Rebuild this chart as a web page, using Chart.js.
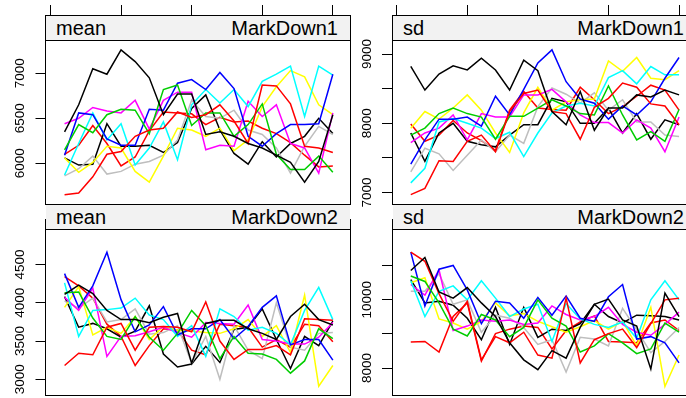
<!DOCTYPE html>
<html lang="en">
<head>
<meta charset="UTF-8">
<title>MarkDown mean / sd</title>
<style>
  html, body { margin: 0; padding: 0; overflow: hidden; background: #fff; }
  body { width: 686px; height: 398px; position: relative; font-family: "Liberation Sans", Arial, sans-serif; }
  canvas { position: absolute; }
  .strip {
    position: absolute; height: 25px; box-sizing: border-box;
    background: #f2f2f2; border-bottom: 1px solid #000;
    font-size: 20px; line-height: 24px; color: #000;
    display: flex; justify-content: space-between;
    padding: 0 12px 0 10px; white-space: nowrap;
  }
</style>
</head>
<body>
<canvas id="c1" width="352" height="232" style="left:0;top:0"></canvas>
<canvas id="c2" width="350" height="232" style="left:350px;top:0"></canvas>
<canvas id="c3" width="352" height="202" style="left:0;top:196px"></canvas>
<canvas id="c4" width="350" height="202" style="left:350px;top:196px"></canvas>

<div class="strip" style="left:46px;top:16px;width:304px"><span>mean</span><span>MarkDown1</span></div>
<div class="strip" style="left:393px;top:16px;width:303px"><span>sd</span><span>MarkDown1</span></div>
<div class="strip" style="left:46px;top:205px;width:304px"><span>mean</span><span>MarkDown2</span></div>
<div class="strip" style="left:393px;top:205px;width:303px"><span>sd</span><span>MarkDown2</span></div>

<script src="https://cdn.jsdelivr.net/npm/chart.js@4"></script>
<script>
// x positions (20 periods) and top-axis ticks
const weeks = [1, 2, 3, 4, 5, 6, 7, 8, 9, 10, 11, 12, 13, 14, 15, 16, 17, 18, 19, 20];
const xTicks = [0, 5, 10, 15, 20];

// line colours, same order as the rows of each panel
const seriesColors = ['#000000', '#FF0000', '#00CD00', '#0000FF', '#00FFFF',
                      '#FF00FF', '#FFFF00', '#BEBEBE', '#000000', '#FF0000'];

// mean, MarkDown1
const meanMarkDown1 = [
  [6350, 6650, 7050, 6990, 7260, 7130, 6950, 6540, 6770, 6770, 6320, 6350, 6300, 6220, 6170, 6090, 6010, 5790, 6020, 6540], // black
  [5650, 5670, 5850, 6100, 6130, 6300, 6370, 6390, 6570, 6510, 6540, 6650, 6470, 6220, 6870, 6860, 6660, 6190, 6170, 6120], // red
  [6150, 6430, 6340, 6540, 6600, 6590, 6330, 6820, 6870, 6420, 6560, 6560, 6300, 6430, 6660, 6100, 5930, 5930, 6080, 5900], // green
  [6090, 6560, 6540, 6270, 6200, 6200, 6600, 6590, 6890, 6930, 6820, 7010, 6830, 6300, 6190, 6330, 6430, 6430, 6440, 6990], // blue
  [5870, 6220, 6560, 6260, 6440, 5980, 6170, 6460, 6040, 6650, 6820, 6670, 6820, 6630, 6910, 6990, 7080, 6520, 7080, 6980], // cyan
  [6440, 6500, 6620, 6580, 6560, 6700, 6380, 6700, 6790, 6790, 6150, 6200, 6190, 6690, 6520, 6650, 6220, 6170, 5890, 6560], // magenta
  [6060, 5900, 6010, 6190, 6170, 5910, 5790, 6080, 6390, 6370, 6300, 6390, 6140, 6260, 6630, 6850, 7030, 6960, 6650, 6540], // yellow
  [5860, 5940, 6080, 5880, 5910, 5990, 6020, 6090, 6260, 6700, 6520, 6500, 6590, 6370, 6320, 6170, 5890, 6190, 6410, 6320], // gray
  [6060, 5980, 5990, 6440, 6190, 6190, 6200, 6120, 6230, 6610, 6760, 6370, 6110, 5990, 6240, 6070, 6220, 6300, 6500, 6330], // black
  [6100, 6200, 6420, 6220, 5970, 6070, 6360, 6570, 6560, 6550, 6430, 6510, 6460, 6470, 6390, 6330, 6230, 6090, 5960, 5970]  // red
];

// sd, MarkDown1
const sdMarkDown1 = [
  [8820, 8480, 8710, 8830, 8770, 8940, 8770, 8480, 8910, 8760, 8170, 7980, 8460, 7900, 8220, 8220, 8410, 8380, 8480, 8410],
  [6970, 7060, 7460, 7450, 7740, 7830, 7590, 8170, 8430, 8480, 8170, 8140, 7770, 8230, 8360, 8580, 8520, 8280, 8250, 7980],
  [7830, 7930, 8140, 8220, 8140, 8090, 7770, 8100, 8100, 8220, 8340, 8250, 8140, 8120, 8540, 8120, 7760, 7880, 7740, 8200],
  [7410, 7760, 8060, 8060, 8090, 7960, 8390, 8120, 8490, 8870, 9060, 8600, 8350, 8290, 8060, 8250, 8120, 8310, 8650, 8950],
  [7140, 7350, 8020, 8070, 8000, 7930, 7780, 7870, 7520, 7860, 8150, 8250, 8290, 8250, 8660, 8760, 8570, 8820, 8700, 8700],
  [7720, 7860, 7930, 8120, 7760, 8140, 8090, 8090, 8410, 8410, 8490, 8310, 8120, 8010, 8010, 7860, 8050, 7930, 7590, 8090],
  [7930, 8170, 8060, 8220, 8410, 8190, 7860, 7580, 8150, 8520, 8190, 8310, 8340, 8350, 8900, 8750, 8950, 8650, 8630, 8760],
  [7300, 7640, 7560, 7320, 7540, 7760, 7590, 7830, 7710, 8240, 8510, 8420, 8290, 8440, 8190, 8340, 8020, 8020, 7830, 7810],
  [7860, 7450, 7860, 8000, 7740, 7690, 7660, 7830, 7980, 7980, 8360, 8310, 8000, 8000, 8220, 7860, 8140, 7770, 8050, 7980],
  [7990, 7740, 7830, 8040, 7860, 7750, 7610, 8190, 8460, 8220, 8200, 8190, 8520, 8340, 8140, 8240, 8390, 8550, 8480, 8190]
];

// mean, MarkDown2
const meanMarkDown2 = [
  [4110, 4230, 4120, 3900, 3780, 3780, 3740, 3810, 3860, 3210, 3730, 3770, 3770, 3660, 3600, 3520, 3820, 3980, 3780, 3710],
  [3180, 3340, 3320, 3680, 3730, 3380, 3680, 3690, 3680, 3620, 4010, 3500, 3260, 3390, 3390, 3440, 3320, 3790, 3780, 3770],
  [4130, 4140, 3800, 3560, 3520, 3820, 3550, 3380, 3600, 3900, 3700, 3270, 3560, 3340, 3330, 3260, 3080, 3240, 3660, 3530],
  [4380, 3940, 4220, 4660, 4040, 3620, 3710, 3950, 3580, 3660, 3660, 3780, 3530, 3690, 3940, 4090, 3450, 3520, 3520, 3250],
  [4260, 3560, 3900, 3910, 3930, 4060, 3840, 3780, 3560, 3700, 3300, 3920, 3820, 3640, 3680, 3600, 3450, 3900, 4200, 3780],
  [4070, 3900, 4190, 3300, 3560, 3570, 3620, 3680, 3610, 3550, 3740, 3730, 3720, 3970, 3520, 3500, 3460, 3460, 3550, 3740],
  [3940, 4210, 3580, 3680, 3600, 3820, 3520, 3690, 3640, 3630, 3610, 3600, 3660, 3780, 3560, 3700, 3350, 4100, 2910, 3180],
  [4020, 3930, 4060, 3750, 3780, 3920, 3590, 3610, 3700, 3210, 3560, 3000, 3700, 3380, 3270, 4000, 3420, 3380, 3600, 3610],
  [4080, 3680, 3730, 3660, 3550, 3630, 3960, 3330, 3160, 3200, 3430, 3220, 3650, 3680, 3920, 3520, 3140, 3560, 3440, 3760],
  [4340, 4220, 4060, 3720, 3560, 3180, 3440, 3660, 3640, 3380, 3320, 3720, 3700, 3680, 3420, 3520, 3420, 3720, 3700, 3490]
];

// sd, MarkDown2
const sdMarkDown2 = [
  [10860, 11240, 10230, 10050, 10360, 9910, 9510, 8740, 8240, 7950, 8510, 8290, 9190, 9870, 10020, 9410, 9230, 7970, 10200, 9510],
  [11400, 11130, 10180, 9370, 9960, 8240, 8920, 8740, 9050, 8380, 8290, 10050, 8150, 8830, 9010, 9140, 8600, 9300, 10000, 10050],
  [10700, 10540, 9910, 9140, 8940, 9570, 9410, 8920, 9190, 10000, 9460, 9230, 8470, 8650, 9010, 8740, 8420, 8560, 9320, 9050],
  [11400, 9820, 10900, 11010, 10290, 9300, 9960, 9910, 9460, 10070, 9550, 10110, 9460, 9370, 10090, 10450, 8850, 8920, 8740, 8150],
  [10560, 9510, 10250, 10410, 10000, 10560, 10050, 9510, 9730, 9870, 8780, 9890, 9440, 9280, 9190, 9350, 8870, 10000, 10560, 10000],
  [10450, 10140, 10880, 9100, 9230, 9410, 9370, 9410, 9280, 9320, 9820, 9570, 9410, 9510, 9780, 9280, 9050, 8960, 9280, 9640],
  [10500, 10650, 9440, 9320, 9140, 9370, 9910, 9530, 9600, 9370, 9210, 9050, 9210, 9390, 9140, 9370, 8650, 9780, 7460, 8380],
  [10250, 10250, 10770, 9870, 10000, 9050, 9550, 9460, 9190, 8690, 8830, 7880, 8900, 8850, 8650, 9750, 9120, 8450, 8780, 9190],
  [10590, 9910, 9960, 9840, 9460, 8830, 9780, 8690, 9780, 8900, 9140, 9100, 9300, 9870, 9510, 9320, 9550, 9530, 9510, 9410],
  [8760, 8780, 8470, 9510, 9910, 8200, 9010, 9140, 9230, 9190, 8560, 9100, 9350, 9530, 8780, 8760, 8740, 9320, 9410, 9100]
];

// y ticks and which of them get a label
const yTicksMeanMD1 = [6000, 6500, 7000];
const yLabelsMeanMD1 = [6000, 6500, 7000];
const yTicksSdMD1 = [7000, 7500, 8000, 8500, 9000];
const yLabelsSdMD1 = [7000, 8000, 9000];
const yTicksMeanMD2 = [3000, 3500, 4000, 4500];
const yLabelsMeanMD2 = [3000, 3500, 4000, 4500];
const yTicksSdMD2 = [8000, 9000, 10000, 11000];
const yLabelsSdMD2 = [8000, 10000];

// box around the panel
const framePlugin = {
  id: 'frame',
  afterDraw(chart) {
    const a = chart.chartArea, c = chart.ctx;
    const l = Math.floor(a.left) + 0.5, t = Math.floor(a.top) + 0.5;
    const r = Math.floor(a.right) + 0.5, b = Math.floor(a.bottom) + 0.5;
    c.save();
    c.strokeStyle = '#000';
    c.lineWidth = 1;
    c.strokeRect(l, t, r - l, b - t);
    c.restore();
  }
};

function makePanel(id, rows, cfg) {
  const datasets = rows.map((vals, i) => ({
    data: weeks.map((w, k) => ({ x: w, y: vals[k] })),
    borderColor: seriesColors[i],
    borderWidth: 1.5,
    pointRadius: 0,
    fill: false,
    tension: 0
  }));

  const tickGrid = { display: true, drawOnChartArea: false, drawTicks: true, tickLength: 10, color: '#000', lineWidth: 1 };

  return new Chart(document.getElementById(id), {
    type: 'line',
    data: { datasets },
    options: {
      responsive: false,
      devicePixelRatio: 1,
      animation: false,
      events: [],
      layout: { padding: cfg.padding },
      plugins: { legend: { display: false }, tooltip: { enabled: false } },
      scales: {
        x: {
          type: 'linear',
          position: 'top',
          display: cfg.topTicks,
          min: cfg.xMin,
          max: cfg.xMax,
          grid: tickGrid,
          border: { display: false },
          ticks: { display: false },
          afterBuildTicks: s => { s.ticks = xTicks.map(v => ({ value: v })); },
          afterFit: s => { s.height = 15; }
        },
        y: {
          type: 'linear',
          position: 'left',
          min: cfg.yMin,
          max: cfg.yMax,
          grid: tickGrid,
          border: { display: false },
          ticks: {
            autoSkip: false,
            minRotation: 90,
            maxRotation: 90,
            crossAlign: 'center',
            padding: cfg.labelPad,
            color: '#000',
            font: { family: 'Liberation Sans, Arial, sans-serif', size: 13.5 },
            callback: v => cfg.labels.includes(v) ? String(v) : ''
          },
          afterBuildTicks: s => { s.ticks = cfg.ticks.map(v => ({ value: v })); },
          afterFit: s => { s.width = cfg.axisWidth; s.paddingTop = 0; s.paddingBottom = 0; }
        }
      }
    },
    plugins: [framePlugin]
  });
}

makePanel('c1', meanMarkDown1, {
  topTicks: true, xMin: -0.35, xMax: 21.25, yMin: 5542, yMax: 7648,
  ticks: yTicksMeanMD1, labels: yLabelsMeanMD1, labelPad: 0, axisWidth: 45.5,
  padding: { left: 0, top: 0, right: 1.5, bottom: 27.5 }
});
makePanel('c2', sdMarkDown1, {
  topTicks: true, xMin: -0.33, xMax: 21.2, yMin: 6828, yMax: 9563,
  ticks: yTicksSdMD1, labels: yLabelsSdMD1, labelPad: 0, axisWidth: 42,
  padding: { left: 0, top: 0, right: 4, bottom: 27.5 }
});
makePanel('c3', meanMarkDown2, {
  topTicks: false, xMin: -0.35, xMax: 21.25, yMin: 2795, yMax: 5087,
  ticks: yTicksMeanMD2, labels: yLabelsMeanMD2, labelPad: 0, axisWidth: 45.5,
  padding: { left: 0, top: 8.5, right: 1.5, bottom: 3 }
});
makePanel('c4', sdMarkDown2, {
  topTicks: false, xMin: -0.33, xMax: 21.2, yMin: 7208, yMax: 12357,
  ticks: yTicksSdMD2, labels: yLabelsSdMD2, labelPad: -3.7, axisWidth: 42,
  padding: { left: 0, top: 8.5, right: 4, bottom: 3 }
});
</script>
</body>
</html>
